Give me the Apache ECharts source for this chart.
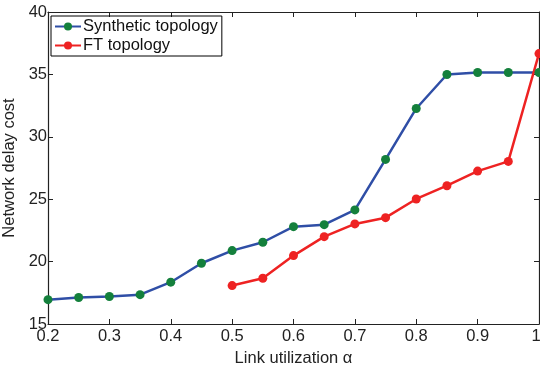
<!DOCTYPE html>
<html><head><meta charset="utf-8">
<script src="https://cdn.jsdelivr.net/npm/echarts@6/dist/echarts.min.js"></script>
<style>html,body{margin:0;padding:0;background:#fff}#c{width:540px;height:368px}</style>
</head><body><div id="c"></div>
<script>
const xValues = [0.2,0.25,0.3,0.35,0.4,0.45,0.5,0.55,0.6,0.65,0.7,0.75,0.8,0.85,0.9,0.95,1.0];
const syntheticCost = [16.95,17.12,17.2,17.35,18.35,19.87,20.88,21.55,22.8,22.96,24.14,28.19,32.27,34.99,35.15,35.15,35.15];
const ftX = [0.5,0.55,0.6,0.65,0.7,0.75,0.8,0.85,0.9,0.95,1.0];
const ftCost = [18.08,18.67,20.48,22.0,23.02,23.52,25.02,26.08,27.25,28.03,36.67];
const seriesNames = ['Synthetic topology','FT topology'];
const xTicks = {0.2:'0.2',0.3:'0.3',0.4:'0.4',0.5:'0.5',0.6:'0.6',0.7:'0.7',0.8:'0.8',0.9:'0.9',1:'1'};

const ff = 'Liberation Sans, Arial, sans-serif';
const fs = 16.5;
const chart = echarts.init(document.getElementById('c'));
const axisLine = {show:true, lineStyle:{color:'#222', width:1.2}};
const fmtX = v => {
  const k = Math.round(v*10)/10;
  if (xTicks[k] === undefined) return '';
  return k === 1 ? '{r|' + xTicks[k] + '}' : xTicks[k];
};
chart.setOption({
  animation:false,
  grid:{left:48, right:1, top:12, bottom:44, outerBoundsMode:'none', containLabel:false},
  legend:{
    orient:'vertical', left:51, top:16,
    borderColor:'#000', borderWidth:1, padding:[2,4,2,3],
    itemGap:2, itemWidth:26, itemHeight:10,
    textStyle:{fontFamily:ff, fontSize:fs, color:'#111', padding:[0,0,0,-3]},
    data:seriesNames
  },
  xAxis:[{
    type:'value', min:0.2, max:1, interval:0.1,
    axisLine:axisLine, axisTick:{show:true, inside:true, length:5, lineStyle:{color:'#222'}},
    splitLine:{show:false},
    axisLabel:{fontFamily:ff, fontSize:fs, color:'#222', margin:4, formatter:fmtX, hideOverlap:false,
      rich:{r:{fontFamily:ff, fontSize:fs, color:'#222', padding:[0,6,0,0]}}},
    name:'Link utilization α', nameLocation:'middle', nameGap:21,
    nameTextStyle:{fontFamily:ff, fontSize:fs, color:'#222'}
  },{
    type:'value', min:0.2, max:1, interval:0.1, position:'top',
    axisLine:axisLine, axisTick:{show:true, inside:true, length:5, lineStyle:{color:'#222'}},
    axisLabel:{show:false}, splitLine:{show:false}
  }],
  yAxis:[{
    type:'value', min:15, max:40, interval:5,
    axisLine:axisLine, axisTick:{show:true, inside:true, length:5, lineStyle:{color:'#222'}},
    splitLine:{show:false},
    axisLabel:{fontFamily:ff, fontSize:fs, color:'#222', margin:1, hideOverlap:false},
    name:'Network delay cost', nameLocation:'middle', nameGap:25,
    nameTextStyle:{fontFamily:ff, fontSize:fs, color:'#222'}
  },{
    type:'value', min:15, max:40, interval:5, position:'right',
    axisLine:axisLine, axisTick:{show:true, inside:true, length:5, lineStyle:{color:'#222'}},
    axisLabel:{show:false}, splitLine:{show:false}
  }],
  series:[{
    name:seriesNames[0], type:'line',
    data:xValues.map((x,i)=>[x,syntheticCost[i]]),
    symbol:'circle', symbolSize:9, clip:false,
    lineStyle:{color:'#2f4ea6', width:2.5},
    itemStyle:{color:'#14803c', borderWidth:0},
    color:'#2f4ea6'
  },{
    name:seriesNames[1], type:'line',
    data:ftX.map((x,i)=>[x,ftCost[i]]),
    symbol:'circle', symbolSize:9, clip:false,
    lineStyle:{color:'#ee2222', width:2.5},
    itemStyle:{color:'#ee2222'},
    color:'#ee2222'
  }]
});
</script></body></html>
